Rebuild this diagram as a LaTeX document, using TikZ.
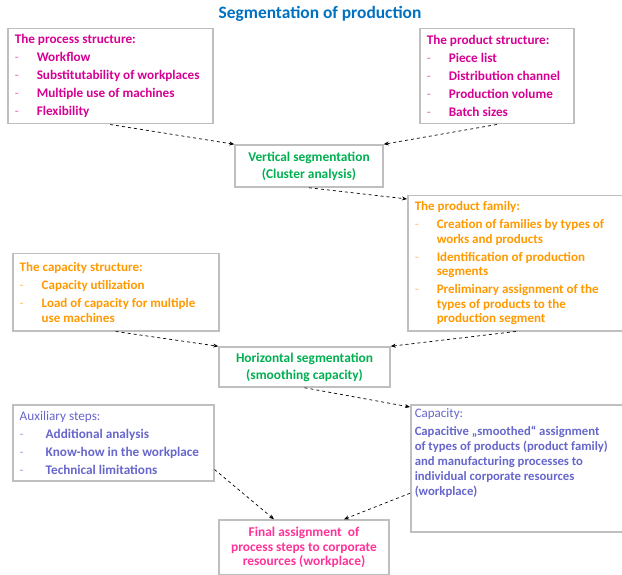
\documentclass[tikz,border=0pt]{standalone}
\usepackage{fontspec}
\setmainfont{Carlito}
\usetikzlibrary{arrows.meta}
\definecolor{boxgray}{RGB}{191,191,191}
\definecolor{titleblue}{RGB}{0,112,192}
\definecolor{procmagenta}{RGB}{214,0,147}
\definecolor{famorange}{RGB}{255,153,0}
\definecolor{segreen}{RGB}{0,176,80}
\definecolor{auxviolet}{RGB}{102,102,204}
\definecolor{finalpink}{RGB}{255,51,153}
\newcommand{\dashitem}[2][22pt]{\par\hangindent=#1\hangafter=1\noindent\makebox[#1][l]{\mdseries\color{.!60}-}#2}
\newcommand{\boxtext}[2]{\parbox{#1}{\raggedright\setlength{\parskip}{3.5pt}#2}}
\begin{document}
\begin{tikzpicture}[x=1pt, y=-1pt]
    \tikzstyle{infobox} = [rectangle, draw=boxgray, line width=1.5pt, anchor=north west, inner xsep=7pt, inner ysep=4pt, font=\bfseries\fontsize{13.2}{14.5}\selectfont]
    \tikzstyle{stepbox} = [rectangle, draw=boxgray, line width=1.5pt, align=center, inner sep=3pt, font=\bfseries\fontsize{13.4}{17}\selectfont]
    \tikzstyle{flow} = [->, >={Stealth[length=5pt, width=4pt]}, dashed, line width=0.7pt]
    \useasboundingbox (0,0) rectangle (622,575);

    % Title
    \node [text=titleblue, font=\bfseries\fontsize{17.4}{20}\selectfont] (title) at (320,14) {Segmentation of production};

    % Input structures
    \node [infobox, text=procmagenta, minimum height=95pt] (process) at (7,28) {\boxtext{191pt}{The process structure:
        \dashitem{Workflow}
        \dashitem{Substitutability of workplaces}
        \dashitem{Multiple use of machines}
        \dashitem{Flexibility}}};
    \node [infobox, text=procmagenta, minimum height=95pt] (product) at (419,28) {\boxtext{140pt}{The product structure:
        \dashitem{Piece list}
        \dashitem{Distribution channel}
        \dashitem{Production volume}
        \dashitem{Batch sizes}}};

    % Vertical segmentation
    \node [stepbox, text=segreen, minimum width=148pt, minimum height=42pt] (vertical) at (309,166) {Vertical segmentation\\(Cluster analysis)};

    % Product family and capacity structure
    \node [infobox, text=famorange, minimum height=135pt, font=\bfseries\fontsize{13}{14.5}\selectfont] (family) at (407,195) {\boxtext{202pt}{The product family:
        \dashitem{Creation of families by types of\newline works and products}
        \dashitem{Identification of production\newline segments}
        \dashitem{Preliminary assignment of the\newline types of products to the\newline production segment}}};
    \node [infobox, text=famorange, minimum height=77pt, font=\bfseries\fontsize{13}{14.5}\selectfont] (capstruct) at (12,253) {\boxtext{192pt}{The capacity structure:
        \dashitem{Capacity utilization}
        \dashitem{Load of capacity for multiple\newline use machines}}};

    % Horizontal segmentation
    \node [stepbox, text=segreen, minimum width=171pt, minimum height=40pt] (horizontal) at (304.5,367) {Horizontal segmentation\\(smoothing capacity)};

    % Auxiliary steps and capacity
    \node [infobox, text=auxviolet, minimum height=76pt] (auxiliary) at (12,404) {\boxtext{187pt}{{\mdseries Auxiliary steps:}
        \dashitem[26pt]{Additional analysis}
        \dashitem[26pt]{Know-how in the workplace}
        \dashitem[26pt]{Technical limitations}}};
    \node [infobox, text=auxviolet, inner xsep=4pt, font=\bfseries\fontsize{12.7}{15}\selectfont] (capacity) at (410,404) {\parbox[c][119pt][t]{204pt}{\raggedright\setlength{\parskip}{3pt}{\mdseries\fontsize{13}{15}\selectfont Capacity:}\par
        Capacitive „smoothed“ assignment\\of types of products (product family)\\and manufacturing processes to\\individual corporate resources\\(workplace)}};

    % Final assignment
    \node [stepbox, text=finalpink, minimum width=170pt, minimum height=55pt, font=\fontsize{13.4}{14.6}\selectfont\bfseries] (final) at (304,547.5) {Final assignment\ \ of\\process steps to corporate\\resources (workplace)};

    % Connections
    \draw [flow] (process.south) -- (vertical.north west);
    \draw [flow] (product.south) -- (vertical.north east);
    \draw [flow] (vertical.south) -- ([yshift=-4pt]family.north west);
    \draw [flow] (capstruct.south) -- (horizontal.north west);
    \draw [flow] (family.south) -- (horizontal.north east);
    \draw [flow] (horizontal.south) -- ([yshift=-3pt]capacity.north west);
    \draw [flow] ([yshift=12pt]auxiliary.south east) -- ([xshift=-30pt]final.north);
    \draw [flow] ([yshift=-25pt]capacity.west) -- ([xshift=40pt]final.north);
\end{tikzpicture}
\end{document}
